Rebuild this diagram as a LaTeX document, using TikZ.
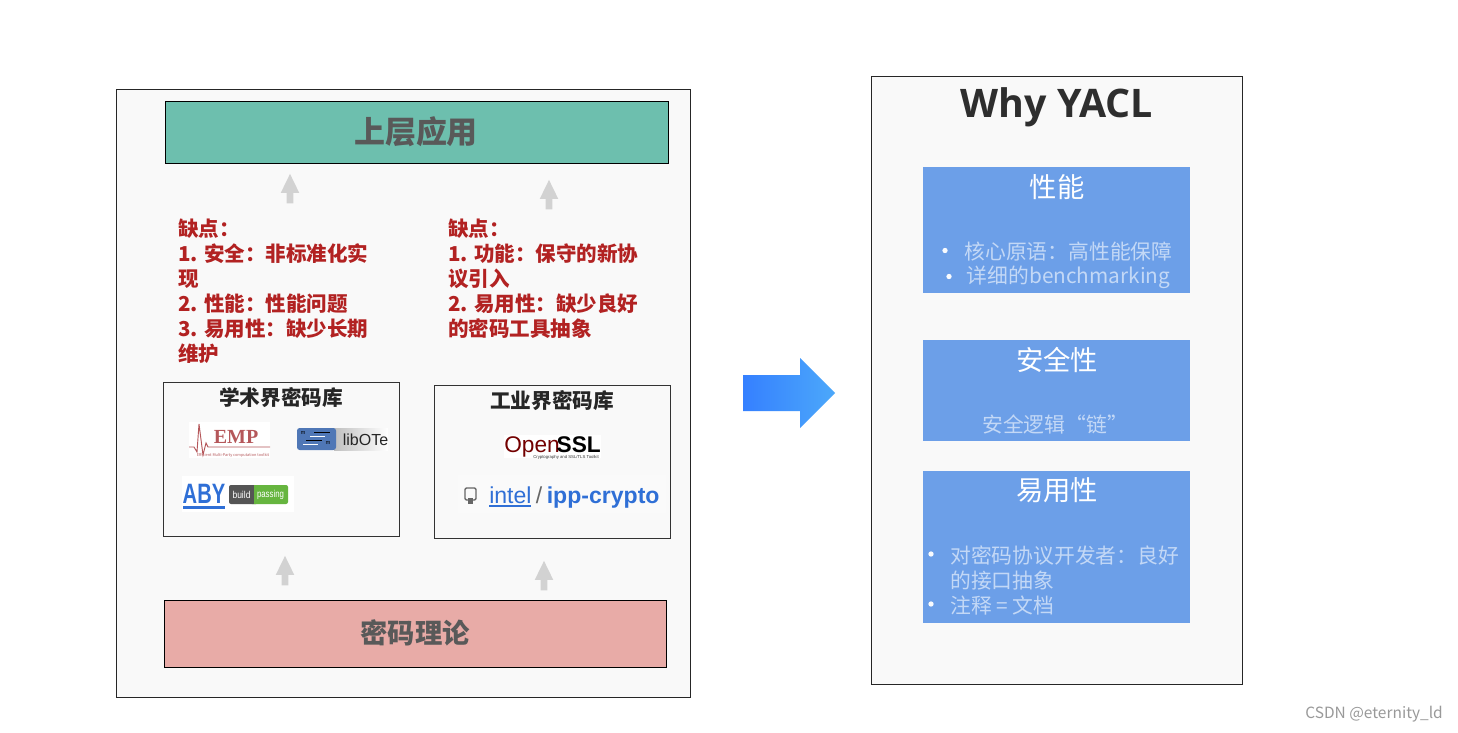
\documentclass[tikz,border=0pt]{standalone}
\usepackage{fontspec}
\setmainfont{Noto Sans CJK SC}
\newfontfamily\arial{Liberation Sans}
\newfontfamily\serifemp{Liberation Serif}
\newfontfamily\titlelatin{Open Sans}
\usetikzlibrary{shapes.arrows}
\definecolor{panelbg}{HTML}{F9F9F9}
\definecolor{tealbox}{HTML}{6DBFAE}
\definecolor{pinkbox}{HTML}{E8ABA7}
\definecolor{bluebox}{HTML}{6C9FE8}
\definecolor{softtext}{HTML}{C3D8F6}
\definecolor{darkred}{HTML}{B22222}
\definecolor{greyarrow}{HTML}{D2D2D2}
\definecolor{hugetext}{HTML}{595959}
\definecolor{linkblue}{HTML}{2F6FD6}
\definecolor{titletext}{HTML}{2E2E2E}
\definecolor{emptext}{HTML}{B5575A}
\definecolor{libblue}{HTML}{4F77B6}
\definecolor{badgegreen}{HTML}{66B53F}
\definecolor{badgedark}{HTML}{555555}
\newcommand{\fs}[1]{\fontsize{#1}{#1}\selectfont}
\tikzset{
  x=0.75pt,y=-0.75pt,
  panel/.style={draw=black!85,line width=0.6pt,fill=panelbg},
  libbox/.style={draw=black!80,line width=0.6pt,fill=panelbg},
  uparrow/.style={shape=single arrow,rotate=90,fill=greyarrow,draw=none,inner sep=2.25pt,
    minimum height=22.1pt,minimum width=13.5pt,single arrow head extend=4.5pt,single arrow tip angle=52},
  bigcap/.style={anchor=center,text=hugetext,font=\fs{23.2}\bfseries},
  libtitle/.style={anchor=center,text=black!85,font=\fs{15.5}\bfseries},
  flaw/.style={anchor=north west,text=darkred,font=\fontsize{15.4}{18.8}\selectfont\bfseries,align=left,inner sep=0pt},
  bluetitle/.style={anchor=center,text=white,font=\fs{20.5}},
  bluetext/.style={anchor=center,text=softtext,font=\fs{15.6},inner sep=0pt},
  dotitem/.style={circle,fill=white!90!softtext,inner sep=0pt,minimum size=4pt},
}
\begin{document}
\begin{tikzpicture}
\useasboundingbox (0,0) rectangle (1458,732);
\fill[white] (0,0) rectangle (1458,732);
% panels
\draw[panel] (115.9,88.9) rectangle (689.9,696.9);
\draw[panel] (870.9,75.9) rectangle (1241.9,683.9);
% teal and pink
\draw[draw=black,line width=0.6pt,fill=tealbox] (164.9,100.9) rectangle (667.9,162.9);
\node[bigcap] (top) at (416,132) {上层应用};
\draw[draw=black,line width=0.6pt,fill=pinkbox] (163.9,599.9) rectangle (665.9,666.9);
\node[bigcap,font=\fs{20.5}\bfseries] (theory) at (415,633) {密码理论};
% grey arrows
\node[uparrow] (a1) at (290,192) {};
\node[uparrow] (a2) at (549,198) {};
\node[uparrow] (a3) at (285,574) {};
\node[uparrow] (a4) at (544,579) {};
% flaws
\node[flaw] (flawL) at (178,218.5) {缺点：\\1. 安全：非标准化实\\现\\2. 性能：性能问题\\3. 易用性：缺少长期\\维护};
\node[flaw] (flawR) at (448,218.5) {缺点：\\1. 功能：保守的新协\\议引入\\2. 易用性：缺少良好\\的密码工具抽象};
% academic lib box
\draw[libbox] (162.9,381.9) rectangle (398.9,535.9);
\node[libtitle] (acad) at (281,398) {学术界密码库};
% EMP
\fill[white] (189,422) rectangle (270,458);
\draw[emptext,line width=0.7pt] (189,447) -- (194,447) -- (197,452) -- (199,424) -- (203,455) -- (206,443) -- (208,447) -- (270,447);
\node[anchor=center,inner sep=0,text=emptext,font=\fs{15}\serifemp\bfseries] (emp) at (236,437) {EMP};
\node[anchor=center,inner sep=0,text=emptext,font=\fs{2.9}] (emps) at (233,455) {Efficient Multi-Party computation toolkit};
% libOTe
\shade[left color=black!25,right color=white] (334,428) rectangle (388,450);
\fill[rounded corners=2pt,fill=libblue] (297,428) rectangle (336,450);
\draw[black,line width=0.4pt] (314,432) -- (330,432);
\draw[white,line width=0.5pt] (310,436) -- (325,436);
\draw[black,line width=0.4pt] (306,440) -- (322,440);
\draw[white,line width=0.5pt] (303,444) -- (318,444);
\node[anchor=center,inner sep=0,text=black,font=\fs{4}] (m0) at (303,433.5) {m};
\node[anchor=center,inner sep=0,text=black,font=\fs{4}] (m1) at (328,443.5) {m};
\node[anchor=center,inner sep=0,text=black!85,font=\fs{12}\arial] (libote) at (365.5,439.5) {libOTe};
% ABY
\fill[white] (182,476) rectangle (294,512);
\node[anchor=center,text=linkblue,font=\fs{21}\bfseries\arial,inner sep=0pt,xscale=0.72] (aby) at (204,494) {ABY};
\fill[linkblue] (183,506) rectangle (225,509);
\fill[badgedark,rounded corners=1.5pt] (229,485) rectangle (258,504);
\fill[badgegreen,rounded corners=1.5pt] (250,485) rectangle (288,504);
\fill[badgegreen] (254,485) rectangle (260,504);
\fill[badgedark] (250,485) rectangle (254,504);
\node[anchor=center,inner sep=0,xscale=0.85,text=white,font=\fs{7.5}\arial] (bld) at (241.5,494.5) {build};
\node[anchor=center,inner sep=0,xscale=0.78,text=white,font=\fs{7.5}\arial] (pss) at (270.5,494.5) {passing};
% industrial lib box
\draw[libbox] (433.9,384.9) rectangle (669.9,537.9);
\node[libtitle] (ind) at (552,400.5) {工业界密码库};
% OpenSSL
\fill[white] (504,435) rectangle (601,458);
\node[anchor=base west,inner sep=0pt,text=red!45!black,font=\fs{17}\arial] (open) at (504,452) {\smash{Open}};
\node[anchor=base east,inner sep=0pt,text=black,font=\fs{17}\bfseries\arial] (ssl) at (601,452) {\smash{SSL}};
\node[anchor=east,inner sep=0pt,text=black!80,font=\fs{3.2}\arial] (osl) at (599,457) {Cryptography and SSL/TLS Toolkit};
% ipp-crypto
\fill[black!2!white] (458,475) rectangle (666,513);
\draw[black!60,line width=1pt,rounded corners=1pt] (465,500) -- (465,488) -- (476,488) -- (476,500) -- cycle;
\fill[black!60] (468,498) rectangle (473,504);
\node[anchor=base west,inner sep=0pt,text=linkblue,font=\fs{17.3}\arial] (intel) at (489,503) {intel};
\draw[linkblue,line width=0.8pt] (489,506) -- (531,506);
\node[anchor=base west,inner sep=0pt,text=black!60,font=\fs{17.3}\arial] (slash) at (535.5,503) {/};
\node[anchor=base west,inner sep=0pt,text=linkblue,font=\fs{17.3}\bfseries\arial] (ipp) at (546.5,503) {ipp-crypto};
% big arrow
\shade[left color={rgb,255:red,53;green,128;blue,255},right color={rgb,255:red,76;green,168;blue,250}]
  (743,375) -- (800,375) -- (800,358) -- (835,393) -- (800,428) -- (800,411) -- (743,411) -- cycle;
% title
\node[anchor=base,inner sep=0,text=titletext,font=\fs{29.5}\titlelatin\bfseries] (why) at (1057,117) {Why YACL};
% blue boxes
\fill[bluebox] (923,167) rectangle (1190,293);
\node[bluetitle] (t1) at (1057,187) {性能};
\node[dotitem] (d1) at (945,250.5) {};
\node[bluetext] (l1) at (1068.5,251.5) {核心原语：高性能保障};
\node[dotitem] (d2) at (949,276.5) {};
\node[bluetext] (l2) at (1068.5,277.5) {详细的benchmarking};
\fill[bluebox] (923,340) rectangle (1190,441);
\node[bluetitle] (t2) at (1057,360) {安全性};
\node[bluetext] (l3) at (1055,424.5) {安全逻辑“链”};
\fill[bluebox] (923,471) rectangle (1190,623);
\node[bluetitle] (t3) at (1057,490) {易用性};
\node[dotitem] (d3) at (931,554) {};
\node[bluetext,anchor=west] (l4) at (950,555.5) {对密码协议开发者：良好};
\node[bluetext,anchor=west] (l5) at (950,580.5) {的接口抽象};
\node[dotitem] (d4) at (931,604) {};
\node[bluetext,anchor=west] (l6) at (950,605.5) {注释 = 文档};
% watermark
\node[anchor=east,inner sep=0pt,text=black!40,font=\fs{11.6}] (wm) at (1443,714) {CSDN @eternity\_ld};
\end{tikzpicture}
\end{document}
